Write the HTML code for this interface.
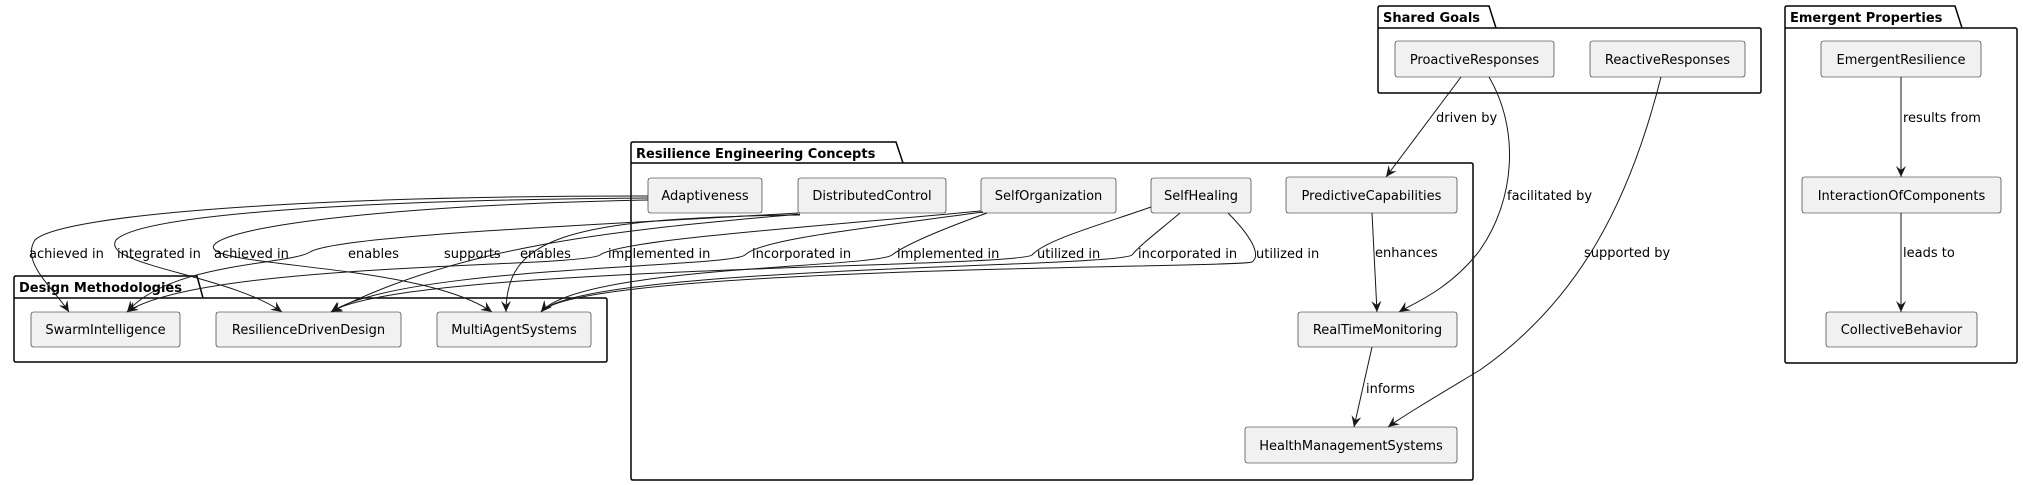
<!DOCTYPE html>
<html><head><meta charset="utf-8"><style>
html,body{margin:0;padding:0;background:#fff;}
svg{display:block;}
text{font-family:"DejaVu Sans","Liberation Sans",sans-serif;}
.n{fill:#f1f1f1;stroke:#181818;stroke-width:0.6;}
.nt{font-size:13px;fill:#000;text-anchor:middle;}
.lb{font-size:13px;fill:#000;}
.pk{fill:none;stroke:#000;stroke-width:1.5;}
.pt{font-size:13px;font-weight:bold;fill:#000;}
.e{fill:none;stroke:#181818;stroke-width:1;}
</style></head><body>
<svg width="2023" height="485" viewBox="0 0 2023 485" xmlns="http://www.w3.org/2000/svg">
<defs>
<marker id="a" viewBox="0 0 12 10" refX="11" refY="5" markerWidth="12" markerHeight="10" markerUnits="userSpaceOnUse" orient="auto">
<path d="M0,0 L11,5 L0,10 L4,5 Z" fill="#181818"/>
</marker>
</defs>

<!-- Packages -->
<path class="pk" d="M1378,28 L1378,8 Q1378,6 1380,6 L1489,6 L1496,28 L1759,28 Q1761,28 1761,30 L1761,91 Q1761,93 1759,93 L1380,93 Q1378,93 1378,91 Z M1378,28 L1496,28"/>
<text class="pt" x="1383" y="22">Shared Goals</text>

<path class="pk" d="M1785,28 L1785,8 Q1785,6 1787,6 L1955,6 L1962,28 L2015,28 Q2017,28 2017,30 L2017,361 Q2017,363 2015,363 L1787,363 Q1785,363 1785,361 Z M1785,28 L1962,28"/>
<text class="pt" x="1790" y="22">Emergent Properties</text>

<path class="pk" d="M631,163 L631,144 Q631,142 633,142 L896,142 L903,163 L1471,163 Q1473,163 1473,165 L1473,478 Q1473,480 1471,480 L633,480 Q631,480 631,478 Z M631,163 L903,163"/>
<text class="pt" x="636" y="158">Resilience Engineering Concepts</text>

<path class="pk" d="M14,298 L14,278 Q14,276 16,276 L197,276 L203,298 L605,298 Q607,298 607,300 L607,360 Q607,362 605,362 L16,362 Q14,362 14,360 Z M14,298 L203,298"/>
<text class="pt" x="19" y="292">Design Methodologies</text>

<!-- Nodes -->
<rect class="n" x="1395" y="41" width="159" height="36" rx="2.5"/><text class="nt" x="1474.5" y="64">ProactiveResponses</text>
<rect class="n" x="1590" y="41" width="155" height="36" rx="2.5"/><text class="nt" x="1667.5" y="64">ReactiveResponses</text>
<rect class="n" x="1821" y="41" width="160" height="36" rx="2.5"/><text class="nt" x="1901" y="64">EmergentResilience</text>
<rect class="n" x="1802" y="177" width="199" height="36" rx="2.5"/><text class="nt" x="1901.5" y="200">InteractionOfComponents</text>
<rect class="n" x="1826" y="312" width="151" height="35" rx="2.5"/><text class="nt" x="1901.5" y="334">CollectiveBehavior</text>

<rect class="n" x="648" y="178" width="114" height="35" rx="2.5"/><text class="nt" x="705" y="200">Adaptiveness</text>
<rect class="n" x="798" y="178" width="148" height="35" rx="2.5"/><text class="nt" x="872" y="200">DistributedControl</text>
<rect class="n" x="981" y="178" width="135" height="35" rx="2.5"/><text class="nt" x="1048.5" y="200">SelfOrganization</text>
<rect class="n" x="1151" y="178" width="100" height="35" rx="2.5"/><text class="nt" x="1201" y="200">SelfHealing</text>
<rect class="n" x="1286" y="177" width="171" height="36" rx="2.5"/><text class="nt" x="1371.5" y="200">PredictiveCapabilities</text>
<rect class="n" x="1298" y="312" width="159" height="35" rx="2.5"/><text class="nt" x="1377.5" y="334">RealTimeMonitoring</text>
<rect class="n" x="1245" y="427" width="212" height="36" rx="2.5"/><text class="nt" x="1351" y="450">HealthManagementSystems</text>

<rect class="n" x="31" y="312" width="149" height="35" rx="2.5"/><text class="nt" x="105.5" y="334">SwarmIntelligence</text>
<rect class="n" x="216" y="312" width="185" height="35" rx="2.5"/><text class="nt" x="308.5" y="334">ResilienceDrivenDesign</text>
<rect class="n" x="437" y="312" width="154" height="35" rx="2.5"/><text class="nt" x="514" y="334">MultiAgentSystems</text>

<!-- Right edges -->
<path class="e" marker-end="url(#a)" d="M1461,77 L1386,177"/>
<path class="e" marker-end="url(#a)" d="M1489,77 C1520,130 1515,200 1480,250 C1450,290 1410,305 1399,312"/>
<path class="e" marker-end="url(#a)" d="M1661,77 C1630,200 1580,300 1480,370 C1430,400 1400,418 1388,427"/>
<path class="e" marker-end="url(#a)" d="M1372,213 L1377,312"/>
<path class="e" marker-end="url(#a)" d="M1372,347 L1354,427"/>
<path class="e" marker-end="url(#a)" d="M1901,77 L1901,177"/>
<path class="e" marker-end="url(#a)" d="M1901,213 L1901,312"/>

<!-- Left tangled edges -->
<path class="e" marker-end="url(#a)" d="M648,196 C300,196 60,215 35,240 C20,262 55,290 69,312"/>
<path class="e" marker-end="url(#a)" d="M648,198 C350,200 140,215 116,240 C100,265 230,275 282,312"/>
<path class="e" marker-end="url(#a)" d="M648,200 C400,205 230,225 214,245 C200,268 420,262 492,312"/>
<path class="e" marker-end="url(#a)" d="M798,213 C600,225 340,235 310,252 C290,265 170,262 127,312"/>
<path class="e" marker-end="url(#a)" d="M800,214 C650,228 470,240 331,312"/>
<path class="e" marker-end="url(#a)" d="M800,215 C560,218 506,240 506,312"/>
<path class="e" marker-end="url(#a)" d="M981,211 C800,228 620,240 600,255 C580,268 200,262 127,312"/>
<path class="e" marker-end="url(#a)" d="M983,212 C850,230 760,240 745,255 C730,268 400,266 331,312"/>
<path class="e" marker-end="url(#a)" d="M987,213 C940,230 905,245 892,255 C875,268 580,266 541,312"/>
<path class="e" marker-end="url(#a)" d="M1151,207 C1100,225 1045,240 1032,255 C1015,268 400,266 331,312"/>
<path class="e" marker-end="url(#a)" d="M1180,213 C1160,230 1140,245 1132,255 C1115,268 580,266 541,312"/>
<path class="e" marker-end="url(#a)" d="M1228,213 C1250,235 1262,255 1252,262 C1240,268 580,266 541,312"/>

<!-- Edge labels -->
<text class="lb" x="29" y="258">achieved in</text>
<text class="lb" x="117" y="258">integrated in</text>
<text class="lb" x="214" y="258">achieved in</text>
<text class="lb" x="348" y="258">enables</text>
<text class="lb" x="444" y="258">supports</text>
<text class="lb" x="520" y="258">enables</text>
<text class="lb" x="608" y="258">implemented in</text>
<text class="lb" x="752" y="258">incorporated in</text>
<text class="lb" x="897" y="258">implemented in</text>
<text class="lb" x="1037" y="258">utilized in</text>
<text class="lb" x="1138" y="258">incorporated in</text>
<text class="lb" x="1256" y="258">utilized in</text>
<text class="lb" x="1436" y="122">driven by</text>
<text class="lb" x="1507" y="200">facilitated by</text>
<text class="lb" x="1375" y="257">enhances</text>
<text class="lb" x="1584" y="257">supported by</text>
<text class="lb" x="1366" y="393">informs</text>
<text class="lb" x="1903" y="122">results from</text>
<text class="lb" x="1903" y="257">leads to</text>
</svg>
</body></html>
